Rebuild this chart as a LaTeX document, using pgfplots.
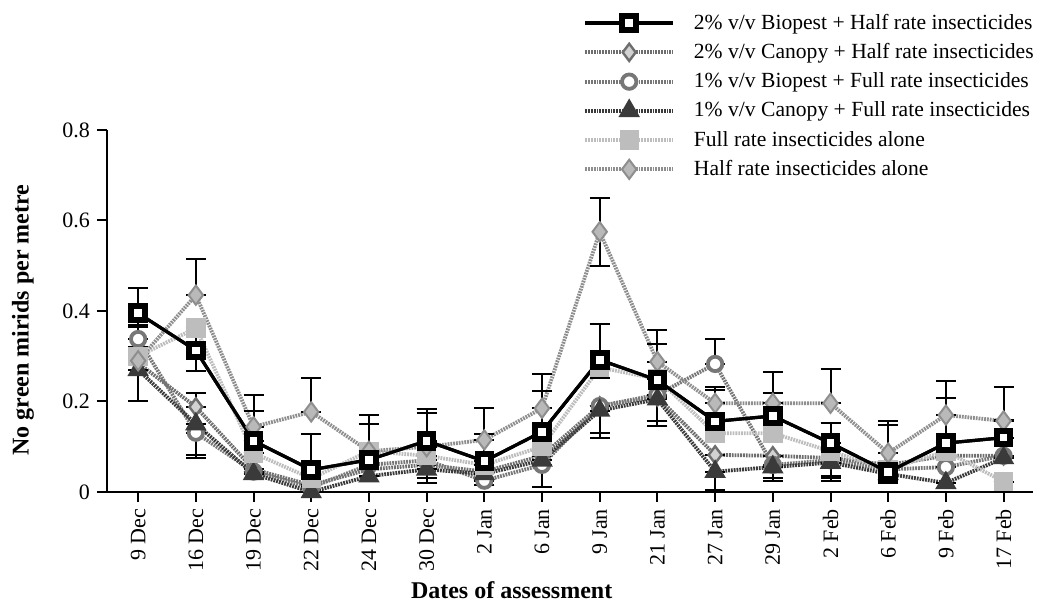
\documentclass[border=0pt]{standalone}
\usepackage{pgfplots}
\pgfplotsset{compat=1.18}
\usepackage{pgfplotstable}
\usepackage{fontspec}
\setmainfont{Liberation Serif}

% columns: date index, mean, upper error, lower error
\pgfplotstableread{
x y ep em
0 0.395 0.055 0.03
1 0.313 0.04 0.045
2 0.113 0.065 0
3 0.049 0.08 0
4 0.071 0.08 0
5 0.113 0.07 0
6 0.068 0.06 0
7 0.133 0.09 0
8 0.292 0.08 0.04
9 0.247 0.08 0.09
10 0.156 0.075 0
11 0.168 0.05 0
12 0.108 0.045 0
13 0.044 0.105 0
14 0.108 0.10 0
15 0.120 0.04 0
}\biohalf
\pgfplotstableread{
x y ep em
0 0.285 0 0
1 0.188 0.03 0
2 0.050 0 0
3 0.015 0.05 0
4 0.050 0 0
5 0.060 0.05 0
6 0.045 0 0
7 0.080 0 0
8 0.190 0 0.06
9 0.210 0 0
10 0.082 0 0
11 0.080 0 0
12 0.075 0 0.04
13 0.060 0 0
14 0.080 0 0
15 0.080 0 0
}\canhalf
\pgfplotstableread{
x y ep em
0 0.338 0.03 0
1 0.131 0 0.05
2 0.045 0 0
3 0.010 0 0
4 0.060 0 0
5 0.070 0 0.04
6 0.025 0 0
7 0.060 0 0
8 0.190 0 0
9 0.215 0 0
10 0.283 0.055 0
11 0.060 0 0.03
12 0.070 0 0.04
13 0.050 0 0
14 0.055 0 0
15 0.080 0 0
}\biofull
\pgfplotstableread{
x y ep em
0 0.270 0 0.07
1 0.150 0 0.075
2 0.040 0 0
3 0.000 0 0
4 0.035 0 0
5 0.050 0 0.03
6 0.040 0 0.025
7 0.070 0 0.06
8 0.180 0 0.06
9 0.205 0 0.06
10 0.045 0 0.04
11 0.055 0 0.03
12 0.065 0 0.04
13 0.040 0 0.02
14 0.020 0 0
15 0.075 0 0
}\canfull
\pgfplotstableread{
x y ep em
0 0.300 0 0
1 0.362 0 0
2 0.086 0 0
3 0.030 0 0
4 0.090 0 0
5 0.080 0 0
6 0.060 0 0
7 0.100 0 0
8 0.275 0 0
9 0.250 0 0
10 0.130 0 0
11 0.130 0 0
12 0.090 0 0
13 0.050 0 0
14 0.090 0 0
15 0.023 0 0
}\fullalone
\pgfplotstableread{
x y ep em
0 0.290 0.03 0
1 0.435 0.08 0
2 0.144 0.07 0
3 0.177 0.075 0
4 0.090 0.08 0
5 0.100 0.075 0
6 0.115 0.07 0
7 0.185 0.075 0
8 0.575 0.075 0.075
9 0.288 0.07 0
10 0.196 0.03 0
11 0.196 0.07 0
12 0.196 0.075 0
13 0.086 0.07 0
14 0.170 0.075 0
15 0.157 0.075 0
}\halfalone

\definecolor{gB}{HTML}{6E6E6E}
\definecolor{gC}{HTML}{777777}
\definecolor{gD}{HTML}{3A3A3A}
\definecolor{gE}{HTML}{BDBDBD}
\definecolor{gF}{HTML}{8E8E8E}

\begin{document}
\begin{tikzpicture}
\begin{axis}[
  name=ax,
  scale only axis,
  width=463pt, height=181pt,
  xmin=-0.54, xmax=15.51,
  ymin=0, ymax=0.8,
  axis x line=bottom, axis y line=left,
  axis line style={-, line width=1pt},
  tick align=outside,
  major tick length=5pt,
  tick style={black, line width=1pt},
  xtick={0,...,15},
  xticklabels={9 Dec,16 Dec,19 Dec,22 Dec,24 Dec,30 Dec,2 Jan,6 Jan,9 Jan,21 Jan,27 Jan,29 Jan,2 Feb,6 Feb,9 Feb,17 Feb},
  xticklabel style={rotate=90, anchor=east, font=\fontsize{11}{13}\selectfont},
  ytick={0,0.2,0.4,0.6,0.8},
  yticklabel style={font=\fontsize{11}{13}\selectfont},
  /pgf/number format/assume math mode=true,
  xlabel={\textbf{Dates of assessment}},
  ylabel={\textbf{No green mirids per metre}},
  xlabel style={font=\fontsize{12}{14}\selectfont, at={(axis description cs:0.437,-0.27)}, anchor=center},
  ylabel style={font=\fontsize{12}{14}\selectfont, at={(axis description cs:-0.0907,0.475)}, anchor=center},
  legend style={draw=none, fill=none, at={(1.0054,1.333)}, anchor=north east,
    font=\fontsize{10.8}{12}\selectfont, row sep=1.6pt, inner sep=0pt},
  legend cell align=left,
  legend image code/.code={\draw[mark repeat=2,mark phase=2] plot coordinates {(0cm,0cm)(0.77cm,0cm)(1.54cm,0cm)};
    \path (1.54cm+7.5pt,0cm);},
  error bars/y dir=both, error bars/y explicit,
  error bars/error bar style={solid, black, line width=1pt},
  error bars/error mark options={solid, black, line width=1pt, mark size=5pt, rotate=90},
]
\addplot[black, line width=1.6pt, mark=square*, mark size=3.4pt,
  mark options={solid, fill=white, draw=black, line width=3pt}]
  table[x=x, y=y, y error plus=ep, y error minus=em] {\biohalf};
\addlegendentry{2\% v/v Biopest + Half rate insecticides}
\addplot[gB, line width=1.9pt, dash pattern=on 0.9pt off 0.5pt, mark=diamond*, mark size=4.3pt,
  mark options={solid, fill=gray!35, draw=gB, line width=1.2pt}]
  table[x=x, y=y, y error plus=ep, y error minus=em] {\canhalf};
\addlegendentry{2\% v/v Canopy + Half rate insecticides}
\addplot[gC, line width=1.9pt, dash pattern=on 0.9pt off 0.5pt, mark=*, mark size=3.6pt,
  mark options={solid, fill=white, draw=gC, line width=1.9pt}]
  table[x=x, y=y, y error plus=ep, y error minus=em] {\biofull};
\addlegendentry{1\% v/v Biopest + Full rate insecticides}
\addplot[gD, line width=1.9pt, dash pattern=on 0.9pt off 0.5pt, mark=triangle*, mark size=4.3pt,
  mark options={solid, fill=gD, draw=gD}]
  table[x=x, y=y, y error plus=ep, y error minus=em] {\canfull};
\addlegendentry{1\% v/v Canopy + Full rate insecticides}
\addplot[gE, line width=1.9pt, dash pattern=on 0.9pt off 0.5pt, mark=square*, mark size=3.9pt,
  mark options={solid, fill=gE, draw=gE}]
  table[x=x, y=y, y error plus=ep, y error minus=em] {\fullalone};
\addlegendentry{Full rate insecticides alone}
\addplot[gF, line width=1.9pt, dash pattern=on 0.9pt off 0.5pt, mark=diamond*, mark size=4.8pt,
  mark options={solid, fill=gray!55, draw=gF, line width=1pt}]
  table[x=x, y=y, y error plus=ep, y error minus=em] {\halfalone};
\addlegendentry{Half rate insecticides alone}
% redraw the black series on top
\addplot[forget plot, black, line width=1.6pt, mark=square*, mark size=3.4pt,
  mark options={solid, fill=white, draw=black, line width=3pt}]
  table[x=x, y=y, y error plus=ep, y error minus=em] {\biohalf};
\end{axis}
\pgfresetboundingbox
\path ([shift={(-53.5pt,-59pt)}]ax.south west) rectangle ([shift={(5pt,65pt)}]ax.north east);
\end{tikzpicture}
\end{document}
